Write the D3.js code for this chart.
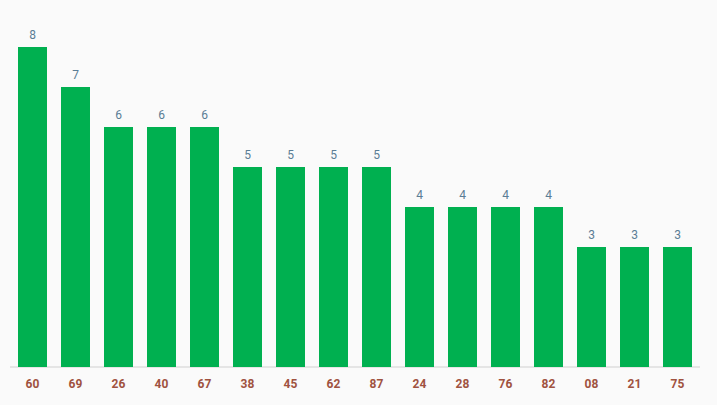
<!DOCTYPE html>
<html><head><meta charset="utf-8">
<script src="https://cdn.jsdelivr.net/npm/d3@7"></script>
<style>body{margin:0;background:#fafafa;}svg{display:block;}</style>
</head><body>
<script>
var categories = ["60","69","26","40","67","38","45","62","87","24","28","76","82","08","21","75"];
var values = [8,7,6,6,6,5,5,5,5,4,4,4,4,3,3,3];

var W = 717, H = 405, base = 367;
var svg = d3.select("body").append("svg").attr("width", W).attr("height", H);
svg.append("rect").attr("width", W).attr("height", H).attr("fill", "#fafafa");

var x = d3.scaleBand().domain(categories).range([11, 699])
    .paddingInner(0.326).paddingOuter(0.163);
var y = d3.scaleLinear().domain([0, 8]).range([base, 47]);

svg.append("line").attr("x1", 10).attr("x2", 700).attr("y1", base).attr("y2", base)
    .attr("stroke", "#d0d0d0").attr("stroke-width", 1);

svg.selectAll("rect.bar").data(values).enter().append("rect")
    .attr("class", "bar")
    .attr("x", function(d, i){ return x(categories[i]); })
    .attr("y", function(d){ return y(d); })
    .attr("width", x.bandwidth())
    .attr("height", function(d){ return base - y(d); })
    .attr("fill", "#00b050");

svg.selectAll("text.val").data(values).enter().append("text")
    .attr("x", function(d, i){ return x(categories[i]) + x.bandwidth() / 2; })
    .attr("y", function(d){ return y(d) - 8; })
    .attr("text-anchor", "middle")
    .attr("font-family", "Roboto, sans-serif").attr("font-size", 12)
    .attr("fill", "#5a7d95")
    .text(function(d){ return d; });

svg.selectAll("text.cat").data(categories).enter().append("text")
    .attr("x", function(d){ return x(d) + x.bandwidth() / 2; })
    .attr("y", 388)
    .attr("text-anchor", "middle")
    .attr("font-family", "Roboto, sans-serif").attr("font-size", 12).attr("font-weight", "bold")
    .attr("fill", "#a0523f")
    .text(function(d){ return d; });
</script>
</body></html>
